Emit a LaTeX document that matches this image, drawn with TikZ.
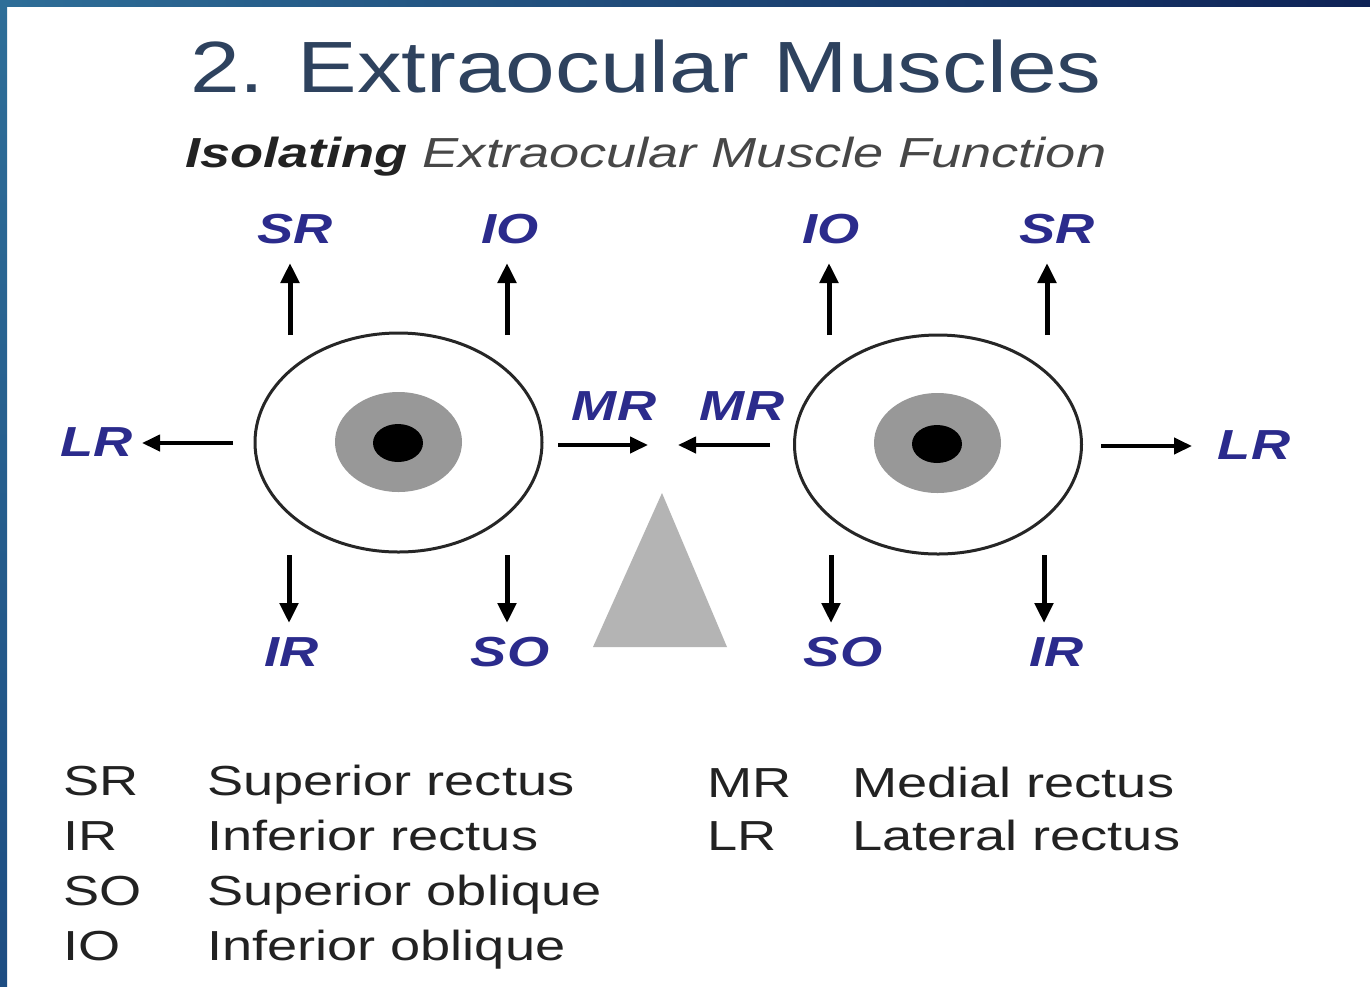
\documentclass[tikz,border=0pt]{standalone}
\usepackage{fontspec}
\setmainfont{Liberation Sans}
\newfontfamily\titlefont[FakeStretch=1.23]{Liberation Sans}
\newfontfamily\widefont[FakeStretch=1.29]{Liberation Sans}
\usetikzlibrary{arrows.meta,shapes.geometric}

\definecolor{framelight}{RGB}{46,110,152}
\definecolor{framedark}{RGB}{14,34,86}
\definecolor{framelow}{RGB}{29,77,130}
\definecolor{titleblue}{RGB}{46,66,94}
\definecolor{muscleblue}{RGB}{43,43,140}
\definecolor{irisgray}{RGB}{152,152,152}
\definecolor{wedgegray}{RGB}{180,180,180}
\definecolor{inkgray}{RGB}{34,34,34}

\begin{document}
\begin{tikzpicture}[x=0.5pt,y=-0.5pt,
  txt/.style={inner sep=0pt,outer sep=0pt},
  muscle/.style={txt,anchor=base,text=muscleblue,font=\widefont\fontsize{21pt}{25pt}\selectfont\bfseries\itshape},
  legend/.style={txt,anchor=base west,text=inkgray,font=\widefont\fontsize{21pt}{25pt}\selectfont},
  eyeball/.style={ellipse,draw=black!85,line width=1.5pt,fill=white,inner sep=0pt,
    minimum width=143.5pt,minimum height=109.5pt},
  iris/.style={ellipse,fill=irisgray,inner sep=0pt,minimum width=63.5pt,minimum height=50pt},
  pupil/.style={ellipse,fill=black,inner sep=0pt,minimum width=25pt,minimum height=19pt},
  vpull/.style={line width=2.5pt,-{Triangle[length=10pt,width=9pt]}},
  hpull/.style={line width=2pt,-{Triangle[length=9pt,width=8pt]}}]

% page and frame
\useasboundingbox (0,0) rectangle (1370,986);
\fill[white] (0,0) rectangle (1370,986);
\shade[left color=framelight,right color=framedark] (0,0) rectangle (1370,6);
\shade[top color=framelight,bottom color=framelow] (0,0) rectangle (7,986);

% headings
\node[txt,anchor=base west,text=titleblue,font=\titlefont\fontsize{36.3pt}{40pt}\selectfont]
  (title) at (190,92) {2. Extraocular Muscles};
\node[txt,anchor=base west,text=inkgray,font=\widefont\fontsize{21pt}{25pt}\selectfont\itshape]
  (subtitle) at (185,167) {{\bfseries Isolating} {\color{black!72}Extraocular Muscle Function}};

% eyes
\node[eyeball] (eyeL) at (398.5,442.5) {};
\node[iris] (irisL) at (398.5,442) {};
\node[pupil] (pupilL) at (398,443) {};
\node[eyeball] (eyeR) at (938,444.5) {};
\node[iris] (irisR) at (937.5,443) {};
\node[pupil] (pupilR) at (937,444) {};

% midline wedge
\fill[wedgegray] (662,493) -- (727,647) -- (593,647) -- cycle;

% muscle labels
\node[muscle] (srL) at (295,243) {SR};
\node[muscle] (ioL) at (510,243) {IO};
\node[muscle] (ioR) at (831,243) {IO};
\node[muscle] (srR) at (1057,243) {SR};
\node[muscle] (lrL) at (97,456) {LR};
\node[muscle] (mrL) at (614,420) {MR};
\node[muscle] (mrR) at (742,420) {MR};
\node[muscle] (lrR) at (1254,459) {LR};
\node[muscle] (irL) at (292,666) {IR};
\node[muscle] (soL) at (510,666) {SO};
\node[muscle] (soR) at (843,666) {SO};
\node[muscle] (irR) at (1057,666) {IR};

% arrow end points
\coordinate (srLa) at (290,335);  \coordinate (srLb) at (290,263);
\coordinate (ioLa) at (507,335);  \coordinate (ioLb) at (507,263);
\coordinate (ioRa) at (829,335);  \coordinate (ioRb) at (829,263);
\coordinate (srRa) at (1047,335); \coordinate (srRb) at (1047,263);
\coordinate (irLa) at (289,555);  \coordinate (irLb) at (289,623);
\coordinate (soLa) at (507,555);  \coordinate (soLb) at (507,623);
\coordinate (soRa) at (831,555);  \coordinate (soRb) at (831,623);
\coordinate (irRa) at (1044,555); \coordinate (irRb) at (1044,623);
\coordinate (lrLa) at (233,443);  \coordinate (lrLb) at (142,443);
\coordinate (mrLa) at (558,445);  \coordinate (mrLb) at (648,445);
\coordinate (mrRa) at (770,445);  \coordinate (mrRb) at (678,445);
\coordinate (lrRa) at (1101,446); \coordinate (lrRb) at (1192,446);

% pulls
\draw[vpull] (srLa) -- (srLb);
\draw[vpull] (ioLa) -- (ioLb);
\draw[vpull] (ioRa) -- (ioRb);
\draw[vpull] (srRa) -- (srRb);
\draw[vpull] (irLa) -- (irLb);
\draw[vpull] (soLa) -- (soLb);
\draw[vpull] (soRa) -- (soRb);
\draw[vpull] (irRa) -- (irRb);
\draw[hpull] (lrLa) -- (lrLb);
\draw[hpull] (mrLa) -- (mrLb);
\draw[hpull] (mrRa) -- (mrRb);
\draw[hpull] (lrRa) -- (lrRb);

% key
\node[legend] (kSR) at (63,795) {SR};
\node[legend] (kIR) at (63,850) {IR};
\node[legend] (kSO) at (63,905) {SO};
\node[legend] (kIO) at (63,960) {IO};
\node[legend] (nSR) at (207,795) {Superior rectus};
\node[legend] (nIR) at (207,850) {Inferior rectus};
\node[legend] (nSO) at (207,905) {Superior oblique};
\node[legend] (nIO) at (207,960) {Inferior oblique};
\node[legend] (kMR) at (707,797) {MR};
\node[legend] (kLR) at (707,850) {LR};
\node[legend] (nMR) at (852,797) {Medial rectus};
\node[legend] (nLR) at (852,850) {Lateral rectus};
\end{tikzpicture}
\end{document}
